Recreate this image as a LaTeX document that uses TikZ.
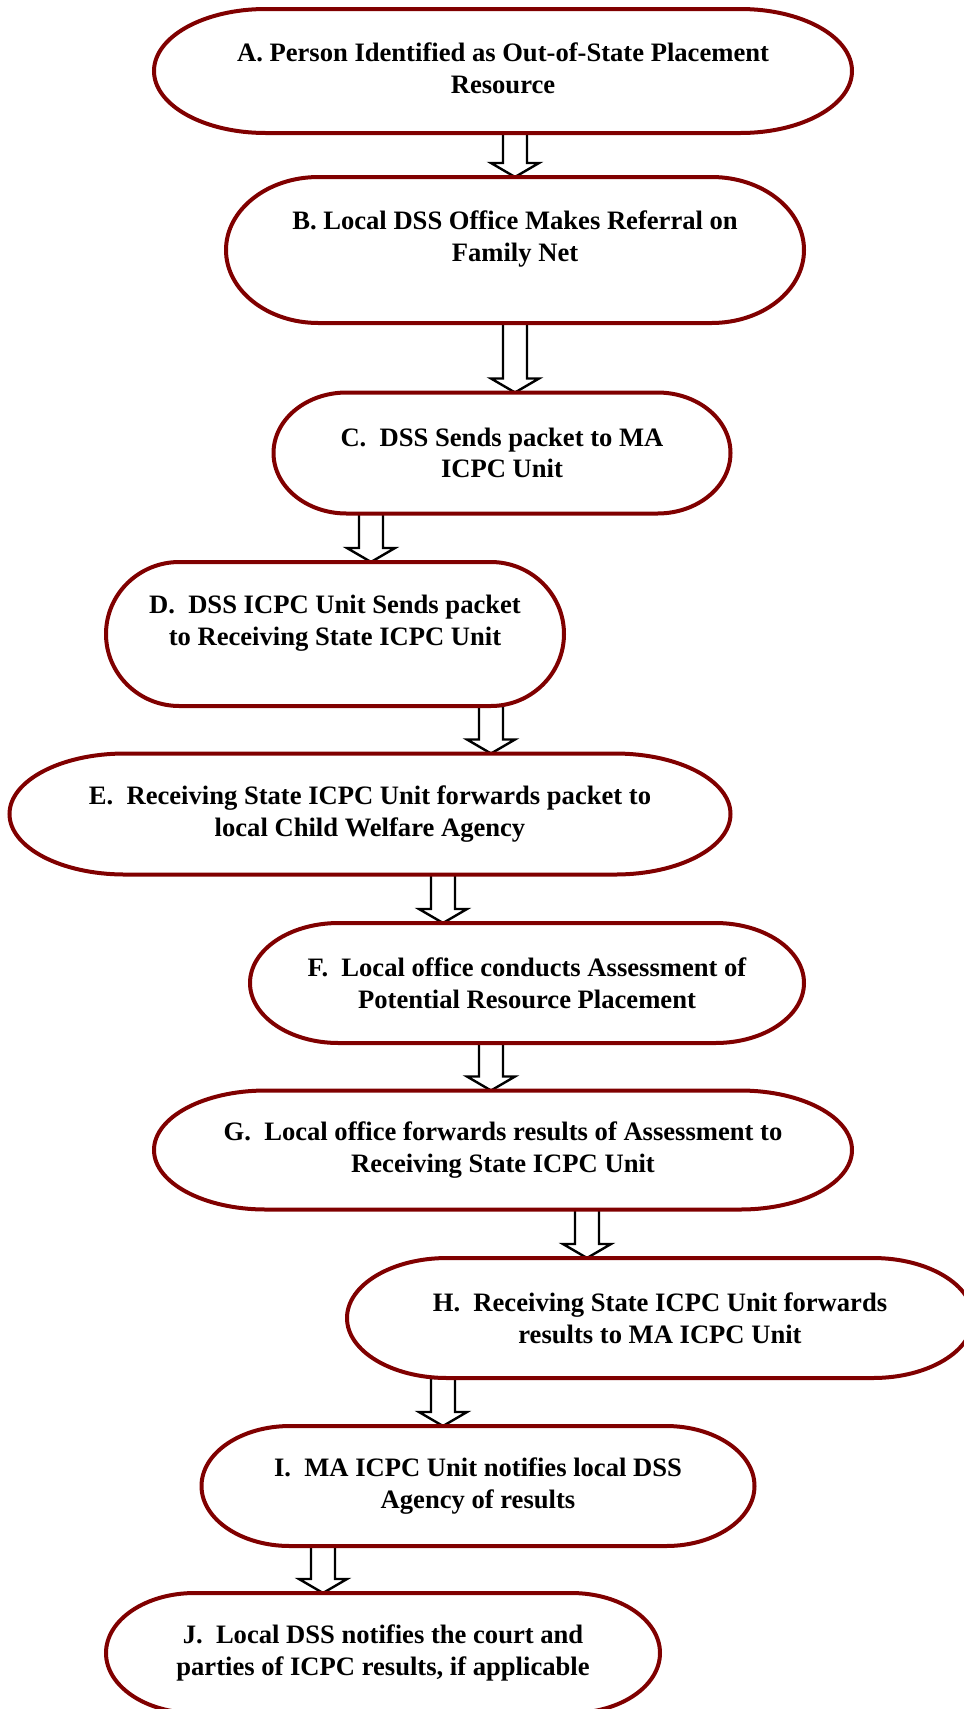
\documentclass[tikz,border=0pt]{standalone}
\usepackage{fontspec}
\setmainfont{Liberation Serif}
\usetikzlibrary{calc}
\definecolor{boxred}{RGB}{128,0,0}
\tikzset{
  term/.style={draw=none, outer sep=0pt, inner sep=0pt, align=center,
    font=\fontsize{13.3}{15.8}\selectfont\bfseries},
  termline/.style={draw=boxred, line width=2pt},
  blockline/.style={draw=black, fill=white, line width=1.2pt, line join=miter},
}
\begin{document}
\begin{tikzpicture}[x=0.5pt,y=0.5pt]
\useasboundingbox (0,0) rectangle (964,-1709);
% steps of the referral
\node[term, minimum width=349pt, minimum height=62pt, text depth=3pt] (a) at (503,-71)
  {A. Person Identified as Out-of-State Placement\\Resource};
\node[term, minimum width=289pt, minimum height=73pt, text depth=13.7pt] (b) at (515,-250)
  {B. Local DSS Office Makes Referral on\\Family Net};
\node[term, minimum width=228.5pt, minimum height=60.5pt] (c) at (502,-453)
  {C.\ \ DSS Sends packet to MA\\ICPC Unit};
\node[term, minimum width=229pt, minimum height=72pt, text depth=13.7pt] (d) at (335,-634)
  {D.\ \ DSS ICPC Unit Sends packet\\to Receiving State ICPC Unit};
\node[term, minimum width=360.5pt, minimum height=60.5pt] (e) at (370,-814)
  {E.\ \ Receiving State ICPC Unit forwards packet to\\local Child Welfare Agency};
\node[term, minimum width=277pt, minimum height=60pt] (f) at (527,-983)
  {F.\ \ Local office conducts Assessment of\\Potential Resource Placement};
\node[term, minimum width=349pt, minimum height=59.5pt] (g) at (503,-1150)
  {G.\ \ Local office forwards results of Assessment to\\Receiving State ICPC Unit};
\node[term, minimum width=313pt, minimum height=60pt] (h) at (660,-1318)
  {H.\ \ Receiving State ICPC Unit forwards\\results to MA ICPC Unit};
\node[term, minimum width=276.5pt, minimum height=60pt] (i) at (478,-1486)
  {I.\ \ MA ICPC Unit notifies local DSS\\Agency of results};
\node[term, minimum width=277pt, minimum height=60pt] (j) at (383,-1653)
  {J.\ \ Local DSS notifies the court and\\parties of ICPC results, if applicable};
% block arrows
\foreach \u/\v/\ax in {a/b/515, b/c/515, c/d/371, d/e/491, e/f/443, f/g/491, g/h/587, h/i/443, i/j/323}
  \draw[blockline] let \p1=(\u.south -| \ax,0), \p2=(\v.north -| \ax,0) in
    (\x1-6pt,\y1) -- (\x1+6pt,\y1) -- (\x1+6pt,\y2+7pt) -- (\x1+12pt,\y2+7pt)
    -- (\x2,\y2) -- (\x1-12pt,\y2+7pt) -- (\x1-6pt,\y2+7pt) -- cycle;
% terminator outlines
\foreach \s in {a,b,c,d,e,f,g,h,i,j}
  \draw[termline] let \p1=(\s.south west), \p2=(\s.north east),
    \n1={0.16*(\x2-\x1)}, \n2={(\y2-\y1)/2} in
    (\x1+\n1,\y2) -- (\x2-\n1,\y2) arc[start angle=90, end angle=-90, x radius=\n1, y radius=\n2]
    -- (\x1+\n1,\y1) arc[start angle=270, end angle=90, x radius=\n1, y radius=\n2] -- cycle;
\end{tikzpicture}
\end{document}
